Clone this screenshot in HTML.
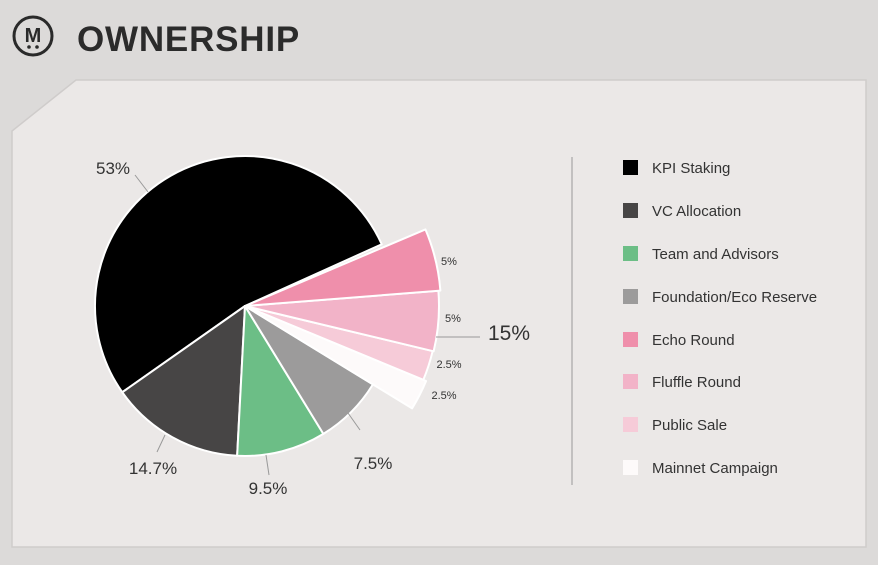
<!DOCTYPE html>
<html><head><meta charset="utf-8"><style>
body{margin:0;width:878px;height:560px;background:#dcdad9;font-family:"Liberation Sans",sans-serif;overflow:hidden}
</style></head><body>
<svg width="878" height="560" xmlns="http://www.w3.org/2000/svg">
<rect width="878" height="560" fill="#dcdad9"/>
<polygon points="76,80 866,80 866,547 12,547 12,131" fill="#ebe8e7" stroke="#cfcccb" stroke-width="1.5"/>
<circle cx="33" cy="36" r="19" fill="none" stroke="#2a2a2a" stroke-width="3"/>
<text x="33" y="42" font-size="20" font-weight="bold" text-anchor="middle" fill="#2a2a2a">M</text>
<circle cx="29" cy="47" r="1.8" fill="#2a2a2a"/><circle cx="37" cy="47" r="1.8" fill="#2a2a2a"/>
<text x="77" y="51" font-size="35" font-weight="bold" fill="#2b2b2b" letter-spacing="0.8">OWNERSHIP</text>
<g id="pie" stroke="#fff" stroke-width="2" stroke-linejoin="round"></g>
<g fill="#333" font-size="17">
<text x="113" y="174" text-anchor="middle">53%</text>
<text x="153" y="474" text-anchor="middle">14.7%</text>
<text x="268" y="494" text-anchor="middle">9.5%</text>
<text x="373" y="469" text-anchor="middle">7.5%</text>
<text x="509" y="340" text-anchor="middle" font-size="21">15%</text>
</g>
<g fill="#333" font-size="11">
<text x="449" y="265" text-anchor="middle">5%</text>
<text x="453" y="322" text-anchor="middle">5%</text>
<text x="449" y="368" text-anchor="middle">2.5%</text>
<text x="444" y="399" text-anchor="middle">2.5%</text>
</g>
<g stroke="#999" stroke-width="1">
<line x1="135" y1="175" x2="148" y2="192"/>
<line x1="165" y1="435" x2="157" y2="452"/>
<line x1="266" y1="455" x2="269" y2="475"/>
<line x1="348" y1="413" x2="360" y2="430"/>
<line x1="436" y1="337" x2="480" y2="337"/>
<line x1="572" y1="157" x2="572" y2="485"/>
</g>
<g font-size="15" fill="#333">
<rect x="623" y="160" width="15" height="15" fill="#000"/><text x="652" y="173">KPI Staking</text>
<rect x="623" y="203" width="15" height="15" fill="#474545"/><text x="652" y="216">VC Allocation</text>
<rect x="623" y="246" width="15" height="15" fill="#6cbe86"/><text x="652" y="259">Team and Advisors</text>
<rect x="623" y="289" width="15" height="15" fill="#9c9b9b"/><text x="652" y="302">Foundation/Eco Reserve</text>
<rect x="623" y="332" width="15" height="15" fill="#ef8fab"/><text x="652" y="345">Echo Round</text>
<rect x="623" y="374" width="15" height="15" fill="#f2b3c8"/><text x="652" y="387">Fluffle Round</text>
<rect x="623" y="417" width="15" height="15" fill="#f6cbd8"/><text x="652" y="430">Public Sale</text>
<rect x="623" y="460" width="15" height="15" fill="#fdfafa"/><text x="652" y="473">Mainnet Campaign</text>
</g>
</svg>
<script>
var cx=245,cy=306,g=document.getElementById('pie');
function sl(a1,a2,r,c){var t=Math.PI/180,x1=cx+r*Math.cos(a1*t),y1=cy+r*Math.sin(a1*t),x2=cx+r*Math.cos(a2*t),y2=cy+r*Math.sin(a2*t);
var p=document.createElementNS('http://www.w3.org/2000/svg','path');
p.setAttribute('d','M'+cx+','+cy+'L'+x1+','+y1+'A'+r+','+r+' 0 '+((a2-a1)>180?1:0)+' 1 '+x2+','+y2+'Z');p.setAttribute('fill',c);g.appendChild(p);}
sl(144.9,335.7,150,'#000');
sl(93,144.9,150,'#474545');
sl(58.5,93,150,'#6cbe86');
sl(31.5,58.5,150,'#9c9b9b');
sl(22.5,31.5,196,'#fdfafa');
sl(13.5,22.5,193,'#f6cbd8');
sl(-4.5,13.5,194,'#f2b3c8');
sl(-23,-4.5,196,'#ef8fab');
</script>
</body></html>
